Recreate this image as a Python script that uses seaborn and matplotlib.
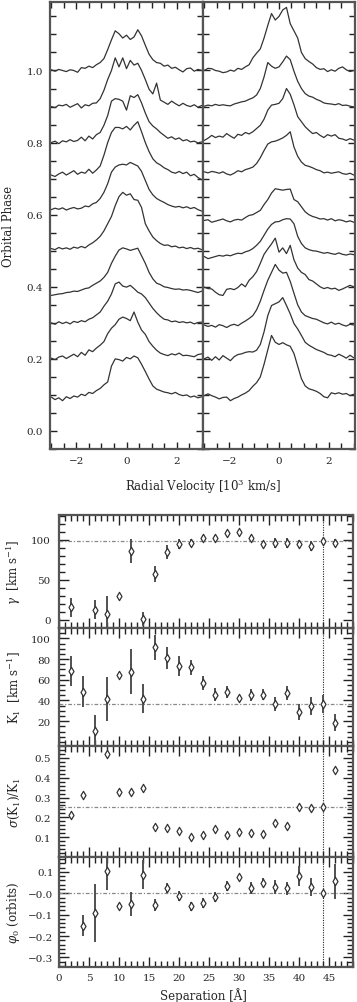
import numpy as np
import pandas as pd
import matplotlib
matplotlib.use("Agg")
import matplotlib.pyplot as plt
from matplotlib.ticker import MultipleLocator, FixedLocator
import seaborn as sns

# ---- trailed line profiles ------------------------------------------
# velocity grid in 10^3 km/s
vel = [-3.00, -2.85, -2.70, -2.55, -2.40, -2.25, -2.10, -1.95, -1.80, -1.65,
       -1.50, -1.35, -1.20, -1.05, -0.90, -0.75, -0.60, -0.45, -0.30, -0.15,
       0.00, 0.15, 0.30, 0.45, 0.60, 0.75, 0.90, 1.05, 1.20, 1.35,
       1.50, 1.65, 1.80, 1.95, 2.10, 2.25, 2.40, 2.55, 2.70, 2.85, 3.00]

phase_left = [0.1, 0.2, 0.3, 0.4, 0.5, 0.6, 0.7, 0.8, 0.9, 1.0]
phase_right = [0.09, 0.20, 0.29, 0.39, 0.49, 0.58, 0.70, 0.80, 0.90, 1.00]

# height above continuum, in units of 0.01 phase
L10 = [-0.6, -1.3, -0.8, -1.6, -0.5, -1.0, -0.3, -0.6, 0.2, -0.2, 0.7, 0.4, 1.2, 1.8, 2.8, 3.6, 8.0, 10.0, 9.8, 9.4,
       10.4, 10.0, 10.8, 10.3, 8.5, 6.5, 4.4, 2.5, 1.6, 1.2, 0.8, 0.6, 0.3, 0.7, 0.1, -0.2, 0.0, -0.6, -0.3, -0.8, -0.5]
L20 = [0.2, -0.2, 0.5, 0.8, 0.1, 0.7, 1.3, 0.6, 1.8, 1.0, 2.5, 2.0, 3.0, 3.8, 4.8, 7.0, 8.5, 9.5, 11.0, 11.6,
       11.2, 10.6, 13.0, 10.2, 8.0, 6.8, 4.8, 3.5, 2.4, 1.6, 1.2, 0.9, 1.4, 1.1, 1.6, 0.9, 1.0, 0.8, 0.6, 1.2, 1.4]
L30 = [0.0, -0.4, 0.3, -0.2, 0.2, -0.3, 0.4, 0.1, 0.6, 0.3, 1.0, 1.4, 2.2, 3.0, 4.6, 6.0, 8.0, 10.8, 11.3, 10.2,
       9.9, 10.4, 9.5, 8.5, 8.0, 7.0, 5.5, 4.0, 2.8, 1.8, 1.0, 0.8, 0.3, 0.5, 0.1, 0.3, 0.0, 0.2, -0.3, 0.1, 0.2]
L40 = [-2.4, -2.2, -2.0, -1.9, -1.6, -1.5, -1.2, -1.3, -0.9, -0.5, -0.3, 0.4, 1.0, 1.6, 2.6, 4.0, 6.5, 8.5, 10.2, 10.8,
       10.5, 10.1, 10.4, 10.7, 8.6, 6.5, 4.0, 2.2, 1.0, 0.6, 0.0, -0.2, -0.5, -0.7, -0.6, -0.9, -0.8, -1.0, -1.3, -1.6, -1.2]
L50 = [0.6, 0.3, 0.9, 0.5, 0.8, 0.4, 1.0, 0.7, 1.2, 0.8, 1.6, 2.2, 3.0, 4.0, 5.5, 7.5, 9.5, 12.5, 15.0, 16.2,
       15.4, 15.8, 14.2, 14.0, 12.0, 7.5, 5.5, 3.8, 2.8, 2.0, 1.5, 1.6, 1.1, 1.3, 0.8, 1.0, 0.6, 0.9, 0.5, 0.7, 0.3]
L60 = [1.4, 1.8, 1.5, 1.9, 1.3, 1.7, 2.0, 1.6, 1.8, 2.4, 2.2, 3.0, 3.4, 4.5, 6.2, 8.6, 11.8, 13.2, 13.8, 14.0,
       13.8, 14.5, 14.0, 13.5, 12.0, 9.5, 7.0, 5.5, 4.5, 3.9, 3.4, 2.8, 2.4, 2.1, 2.3, 1.9, 2.2, 1.7, 2.0, 1.4, 1.0]
L70 = [1.0, 0.6, 1.3, 1.8, 1.0, 1.6, 2.2, 1.2, 1.8, 1.5, 2.6, 1.5, 2.4, 3.5, 6.5, 10.0, 12.8, 14.2, 14.2, 13.8,
       14.5, 13.5, 14.8, 15.8, 13.0, 10.0, 7.5, 5.5, 4.4, 3.8, 3.0, 2.5, 1.8, 1.5, 2.0, 1.4, 1.8, 0.8, 1.2, 0.3, -0.3]
L80 = [0.0, 0.4, -0.3, 0.5, 0.2, 0.8, 0.3, 0.6, 1.5, 0.5, 1.8, 1.0, 2.2, 2.8, 4.8, 7.5, 11.5, 12.2, 12.0, 11.5,
       9.0, 13.0, 12.5, 13.3, 11.0, 8.2, 5.8, 4.6, 3.8, 2.8, 2.0, 1.2, 1.6, 0.9, 1.3, 0.5, 0.8, 0.2, 0.4, -0.1, 0.2]
L90 = [0.0, -0.3, 0.4, 0.2, 0.6, -0.2, 0.3, 0.8, -0.4, 0.5, 0.2, 0.9, 1.0, 2.2, 4.5, 7.5, 10.0, 13.5, 11.0, 13.5,
       10.5, 12.8, 11.5, 12.0, 10.0, 7.5, 4.8, 3.5, 6.5, 1.8, 1.2, 0.6, 1.5, 0.8, 0.2, 0.9, 0.3, 0.0, 0.5, -0.2, 0.3]
L100 = [0.2, -0.2, 0.3, 0.0, -0.3, 0.2, 0.0, -0.5, 0.8, 0.6, 1.2, 0.8, 1.6, 2.2, 3.3, 5.8, 8.5, 11.0, 10.2, 9.0,
        9.8, 8.6, 9.3, 11.3, 9.6, 7.0, 4.5, 3.0, 2.2, 2.0, 1.2, 1.5, 0.6, 0.9, 0.2, -0.4, 0.5, 0.7, -0.2, 0.3, 0.0]

R09 = [0.8, 1.3, 0.8, 0.4, -0.1, 0.3, 0.4, -0.6, 0.0, 0.4, 1.0, 1.5, 2.2, 3.4, 4.4, 6.0, 9.5, 13.5, 17.5, 15.6,
       15.0, 15.5, 14.9, 14.5, 12.5, 9.0, 5.5, 3.5, 2.7, 2.4, 2.0, 1.4, 0.5, 0.2, 1.6, 1.3, 1.6, 1.2, 1.4, 0.8, 1.2]
R20 = [0.0, 0.5, -0.4, 0.6, -0.3, 0.9, 0.2, -0.5, 0.6, 1.2, 1.4, 1.8, 2.0, 1.9, 2.4, 4.0, 7.5, 12.0, 14.8, 15.3,
       15.8, 17.0, 14.8, 12.5, 9.8, 8.3, 6.5, 4.6, 3.8, 3.2, 2.6, 2.2, 1.8, 1.2, 1.0, 0.6, 1.3, 0.8, 0.2, 1.0, 0.3]
R29 = [0.4, 0.0, 0.3, -0.2, 0.5, 0.2, -0.3, 0.3, 0.6, 0.2, 0.9, 1.5, 2.2, 3.0, 4.6, 7.0, 10.0, 12.8, 15.0, 17.2,
       15.6, 14.8, 15.0, 12.5, 9.2, 6.0, 4.0, 3.0, 2.6, 2.2, 2.0, 1.5, 1.0, 0.7, 1.2, 0.6, 0.9, 0.4, 0.1, 0.6, 0.4]
R39 = [0.9, 0.5, 0.4, -0.5, -1.2, -1.4, 0.3, 0.5, 0.2, 0.8, 1.8, 1.0, 2.8, 3.8, 5.2, 7.5, 10.0, 11.5, 12.9, 14.5,
       10.6, 11.8, 10.2, 12.5, 8.5, 6.2, 5.0, 4.4, 3.0, 2.6, 1.8, 1.0, 0.5, 0.8, 0.4, 0.6, 0.0, 0.4, 0.9, 1.4, 1.0]
R49 = [-0.6, -1.2, -0.9, -0.6, -0.3, -0.5, -0.2, -0.4, 0.0, 0.3, 0.2, 0.7, 1.0, 1.6, 2.5, 3.6, 5.3, 7.0, 8.3, 9.0,
       9.1, 9.6, 9.9, 9.8, 8.5, 5.0, 3.0, 1.8, 1.3, 1.0, 0.9, 0.6, 0.3, 0.5, 0.2, 0.0, 0.4, 0.0, -0.2, 0.1, -0.1]
R58 = [0.4, 0.6, -0.1, 0.2, 0.5, 0.8, 0.3, 0.0, 0.5, 0.7, 0.5, 1.2, 1.8, 2.0, 2.6, 3.2, 4.8, 6.2, 8.0, 9.2,
       9.0, 8.8, 9.0, 9.1, 6.2, 5.6, 4.2, 2.8, 2.0, 1.5, 1.2, 0.8, 0.9, 0.5, 0.9, 0.3, 0.6, 0.4, 0.0, 0.3, -0.1]
R70 = [1.9, 1.6, 2.0, 1.8, 1.5, 1.9, 1.3, 1.0, 1.5, 2.2, 1.9, 2.5, 2.8, 3.2, 4.2, 5.8, 7.8, 9.6, 10.2, 10.4,
       10.8, 11.3, 12.0, 13.0, 8.8, 6.2, 4.6, 3.7, 3.4, 3.0, 2.5, 2.2, 1.6, 1.8, 1.5, 1.7, 1.9, 1.4, 1.2, 1.5, 1.0]
R80 = [0.6, 1.2, 2.0, 1.4, 1.8, 1.5, 2.5, 1.8, 1.2, 2.3, 2.0, 2.8, 2.4, 3.0, 3.9, 4.8, 6.5, 9.0, 10.4, 10.6,
       10.9, 12.2, 15.0, 13.4, 10.5, 7.2, 5.8, 4.4, 3.4, 2.5, 2.8, 2.0, 1.4, 2.2, 1.8, 2.2, 1.2, 1.0, 0.6, 1.1, 0.7]
R90 = [0.1, 0.4, 0.2, 0.6, 0.3, 0.5, 0.3, 0.2, 0.7, 1.0, 1.3, 1.5, 2.0, 2.4, 3.2, 5.0, 8.2, 12.2, 11.2, 10.6,
       11.0, 12.4, 14.0, 13.0, 9.8, 7.0, 5.0, 3.6, 2.9, 2.6, 2.0, 1.6, 1.0, 0.8, 0.7, 0.5, 0.8, 0.3, 0.4, 0.1, -0.1]
R100 = [0.0, 0.6, 0.5, 0.0, -0.2, -0.6, -0.4, 0.1, -0.2, 0.6, 0.3, 1.0, 1.6, 3.5, 4.8, 6.0, 9.0, 12.5, 15.8, 14.0,
        15.0, 16.8, 17.5, 13.0, 11.0, 9.0, 5.0, 3.3, 2.5, 1.8, 0.8, 0.3, 0.5, -0.3, 0.2, -0.2, 0.6, 1.0, 0.2, -0.3, 0.0]

vel_ticks = [-2, 0, 2]

# ---- diagnostic diagram ----------------------------------------------
sep = [2, 4, 6, 8, 10, 12, 14, 16, 18, 20, 22, 24, 26, 28, 30, 32, 34, 36, 38, 40, 42, 44, 46]
gamma = [16, np.nan, 13, 7.5, 29.6, 86.5, 1.2, 57, 84.5, 95, 96, 102.5, 102.5, 108.5, 110, 102.5,
         95, 96, 96, 95, 92, 98, 96]
gamma_err = [12, np.nan, 12, 22, np.nan, 15, 9, 10, 9, 6, 5, 3, 3, 4, np.nan, 3, 3, 6, 6, 5, 6, 3, 5]
k1 = [68.8, 48.5, 10.4, 41.5, 64.6, 67.8, 41.5, 91.3, 81, 73.6, 72, 57, 45.6, 48, 42, 45.4, 45.6,
      36.7, 47, 29, 34.7, 36.7, 18.7]
k1_err = [14.5, 15, 16, 21, np.nan, 22, 14, 12, 11, 9.5, 7.5, 6.5, 6, 5.5, np.nan, 5.5, 5.5, 6.5,
          7, 7.5, 9, 9, 8.5]
ratio = [0.21, 0.315, np.nan, 0.52, 0.33, 0.33, 0.35, 0.15, 0.145, 0.132, 0.103, 0.112, 0.142, 0.112,
         0.128, 0.12, 0.115, 0.17, 0.158, 0.253, 0.245, 0.253, 0.44]
phi0 = [np.nan, -0.151, -0.093, 0.103, -0.061, -0.05, 0.087, -0.055, 0.025, -0.013, -0.061, -0.045,
        -0.019, 0.034, 0.078, 0.026, 0.05, 0.031, 0.023, 0.081, 0.03, 0.0, 0.056]
phi0_err = [np.nan, 0.048, 0.135, 0.088, np.nan, 0.057, 0.068, 0.027, 0.024, 0.023, 0.02, 0.022,
            0.023, 0.022, np.nan, 0.027, 0.022, 0.033, 0.029, 0.048, 0.041, np.nan, 0.082]

gamma_mean = 98
k1_mean = 36.5
ratio_cut = 0.25
phi_zero = 0.0
sep_best = 44

sep_ticks = [0, 5, 10, 15, 20, 25, 30, 35, 40, 45]
phi_ticks = [0.1, 0.0, -0.1, -0.2, -0.3]
phi_ticklabels = ["0.1", "\u22120.0", "\u22120.1", "\u22120.2", "\u22120.3"]


sns.set_theme(style="ticks")
plt.rcParams["font.family"] = ["DejaVu Serif"]
plt.rcParams["mathtext.fontset"] = "dejavuserif"
plt.rcParams["axes.edgecolor"] = "#555555"
plt.rcParams["axes.linewidth"] = 1.6

W, H = 357, 1003
fig = plt.figure(figsize=(W / 100, H / 100), dpi=100)


def box(x0, y0, x1, y1):
    # pixel box (top-left origin) -> figure fraction
    return [x0 / W, 1 - y1 / H, (x1 - x0) / W, (y1 - y0) / H]


def spectra_frame(phases, profiles):
    parts = []
    for p, prof in zip(phases, profiles):
        d = pd.DataFrame({"vel": vel, "h": prof})
        d["y"] = p + d["h"] / 100.0
        d["spec"] = p
        parts.append(d)
    return pd.concat(parts, ignore_index=True)


dfL = spectra_frame(phase_left, [L10, L20, L30, L40, L50, L60, L70, L80, L90, L100])
dfR = spectra_frame(phase_right, [R09, R20, R29, R39, R49, R58, R70, R80, R90, R100])

axL = fig.add_axes(box(50, 3, 203, 450))
axR = fig.add_axes(box(203, 3, 355, 450), sharey=axL)

for ax, df in ((axL, dfL), (axR, dfR)):
    sns.lineplot(data=df, x="vel", y="y", units="spec", estimator=None, sort=False,
                 color="#333333", lw=0.9, ax=ax)
    ax.set_xlim(-3.05, 3.05)
    ax.xaxis.set_major_locator(FixedLocator(vel_ticks))
    ax.xaxis.set_minor_locator(MultipleLocator(0.5))
    ax.yaxis.set_major_locator(MultipleLocator(0.2))
    ax.yaxis.set_minor_locator(MultipleLocator(0.05))
    ax.tick_params(which="both", direction="in", top=True, right=True, labelsize=7.5,
                   color="#222222", width=1.0)
    ax.tick_params(which="major", length=5, pad=5)
    ax.tick_params(which="minor", length=4)
    ax.set_xlabel("")
    ax.set_ylabel("")

axL.set_ylim(-0.05, 1.19)
axR.tick_params(labelleft=False)
axL.set_ylabel("Orbital Phase", fontsize=8.5, va="center")
axL.yaxis.set_label_coords((9 - 50) / 153, 0.5)
fig.text(203 / W, 1 - 487 / H, "Radial Velocity [10$^3$ km/s]", ha="center", va="center",
         fontsize=8.5)

# ---- lower panels -------------------------------------------------------
panels = [
    (box(59, 516, 353, 629), gamma, gamma_err, gamma_mean, (-10, 131), 50, 10,
     r"$\gamma$  [km s$^{-1}$]"),
    (box(59, 629, 353, 747), k1, k1_err, k1_mean, (-4, 110), 20, 5,
     r"K$_1$  [km s$^{-1}$]"),
    (box(59, 747, 353, 858), ratio, None, ratio_cut, (0.0, 0.56), 0.1, 0.02,
     r"$\sigma$(K$_1$)/K$_1$"),
    (box(59, 858, 353, 968), phi0, phi0_err, phi_zero, (-0.345, 0.17), 0.1, 0.02,
     r"$\varphi_0$ (orbits)"),
]

axes = []
for rect, yv, ye, ref, ylim, major, minor, label in panels:
    ax = fig.add_axes(rect)
    ax.axhline(ref, color="#888888", lw=0.9, ls=(0, (3, 1.5, 1, 1.5)), zorder=1)
    ax.axvline(sep_best, color="#222222", lw=0.8, ls=(0, (1, 1.2)), zorder=1)
    if ye is not None:
        ax.errorbar(sep, yv, yerr=ye, fmt="none", ecolor="#505050", elinewidth=1.4,
                    capsize=0, zorder=2)
    sns.scatterplot(x=sep, y=yv, marker="d", s=18, color="white", edgecolor="#333333",
                    linewidth=0.9, ax=ax, zorder=3)
    ax.set_xlim(0, 49)
    ax.set_ylim(*ylim)
    ax.xaxis.set_major_locator(FixedLocator(sep_ticks))
    ax.xaxis.set_minor_locator(MultipleLocator(1))
    ax.yaxis.set_major_locator(MultipleLocator(major))
    ax.yaxis.set_minor_locator(MultipleLocator(minor))
    ax.tick_params(which="both", direction="in", top=True, right=True, labelsize=7.5,
                   labelbottom=False, color="#222222", width=1.0)
    ax.tick_params(which="major", length=7, pad=6)
    ax.tick_params(which="minor", length=4)
    ax.set_ylabel(label, fontsize=8.5, va="center")
    ax.yaxis.set_label_coords((14 - 59) / 294, 0.5)
    axes.append(ax)

axes[1].set_yticks([20, 40, 60, 80, 100])
axes[1].set_ylim(-4, 110)
axes[2].set_yticks([0.1, 0.2, 0.3, 0.4, 0.5])
axes[2].set_ylim(0.0, 0.56)
axes[3].set_yticks(phi_ticks)
axes[3].set_yticklabels(phi_ticklabels)
axes[3].set_ylim(-0.345, 0.17)
axes[3].tick_params(labelbottom=True, pad=4)
fig.text(203 / W, 1 - 996 / H, "Separation [\u00c5]", ha="center", va="center", fontsize=8.5)

fig.savefig("out.png", dpi=100)
